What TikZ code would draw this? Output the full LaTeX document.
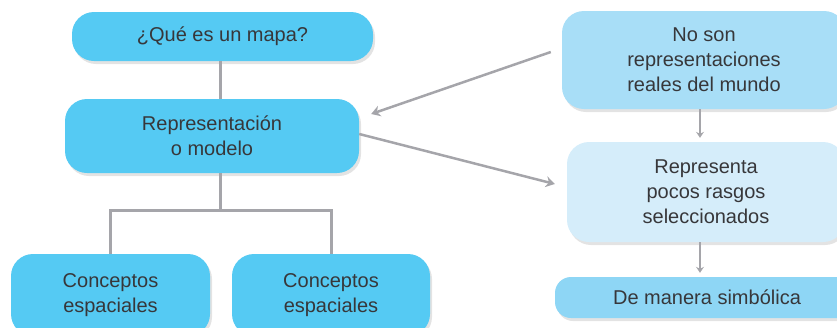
\documentclass[tikz,border=0pt]{standalone}
\usepackage{fontspec}
\setmainfont{Liberation Sans}
\usepackage{xcolor}
\usepackage{tikz}
\usetikzlibrary{positioning, arrows.meta, calc, shadows}
\definecolor{mapcyan}{RGB}{85,202,243}
\definecolor{paleblue}{RGB}{168,222,247}
\definecolor{paleslate}{RGB}{213,237,250}
\definecolor{midblue}{RGB}{142,214,245}
\definecolor{linegray}{RGB}{165,165,170}
\definecolor{textgray}{RGB}{55,55,58}

\begin{document}
\begin{tikzpicture}[
    x=1pt, y=-1pt,
    every node/.style={font=\fontsize{20}{25}\selectfont, text=textgray},
    mainbox/.style={
        rectangle,
        rounded corners=22pt,
        fill=mapcyan,
        align=center,
        drop shadow={opacity=0.22, shadow xshift=2pt, shadow yshift=-3pt}
    },
    notebox/.style={
        rectangle,
        rounded corners=22pt,
        fill=paleblue,
        align=center,
        drop shadow={opacity=0.22, shadow xshift=2pt, shadow yshift=-3pt}
    },
    link/.style={line width=3pt, draw=linegray},
    arrow/.style={-{Stealth[length=9pt, width=11pt, inset=3pt]}, line width=2.5pt, draw=linegray},
    smallarrow/.style={-{Stealth[length=6pt, width=8pt, inset=2pt]}, line width=2pt, draw=linegray}
]

\useasboundingbox (0,0) rectangle (837,327);
\clip (0,0) rectangle (837,327);

% left tree
\node[mainbox, minimum width=301pt, minimum height=49pt] (question) at (222.5,36.5) {¿Qué es un mapa?};
\node[mainbox, minimum width=294pt, minimum height=74pt] (model) at (212,136) {Representación\\o modelo};
\node[mainbox, minimum width=199pt, minimum height=82pt] (spaceA) at (110.5,295) {Conceptos\\espaciales};
\node[mainbox, minimum width=198pt, minimum height=82pt] (spaceB) at (331,295) {Conceptos\\espaciales};

% right column
\node[notebox, minimum width=284pt, minimum height=98pt] (notreal) at (704,60) {No son\\representaciones\\reales del mundo};
\node[notebox, fill=paleslate, minimum width=278pt, minimum height=100pt] (fewtraits) at (706,192) {Representa\\pocos rasgos\\seleccionados};
\node[notebox, fill=midblue, rounded corners=16pt, minimum width=304pt, minimum height=41pt] (symbolic) at (707,297.5) {De manera simbólica};

\coordinate (fork) at (220,210);
\draw[link] (fork |- question.south) -- (fork |- model.north);
\draw[link] (fork |- model.south) -- (fork);
\draw[link] (spaceA.north) |- (fork) -| (spaceB.north);

\coordinate (fromnote) at ($(notreal.west)+(-11,-8)$);
\coordinate (tonote) at ($(fewtraits.west)+(-12,-8)$);
\draw[arrow] (fromnote) -- ($(model.east)+(12,-22)$);
\draw[arrow] ($(model.east)+(0,-2)$) -- (tonote);

\draw[smallarrow, shorten >=4pt] (notreal.south -| 700,0) -- (fewtraits.north -| 700,0);
\draw[smallarrow, shorten >=4pt] (fewtraits.south -| 700,0) -- (symbolic.north -| 700,0);

\end{tikzpicture}
\end{document}
